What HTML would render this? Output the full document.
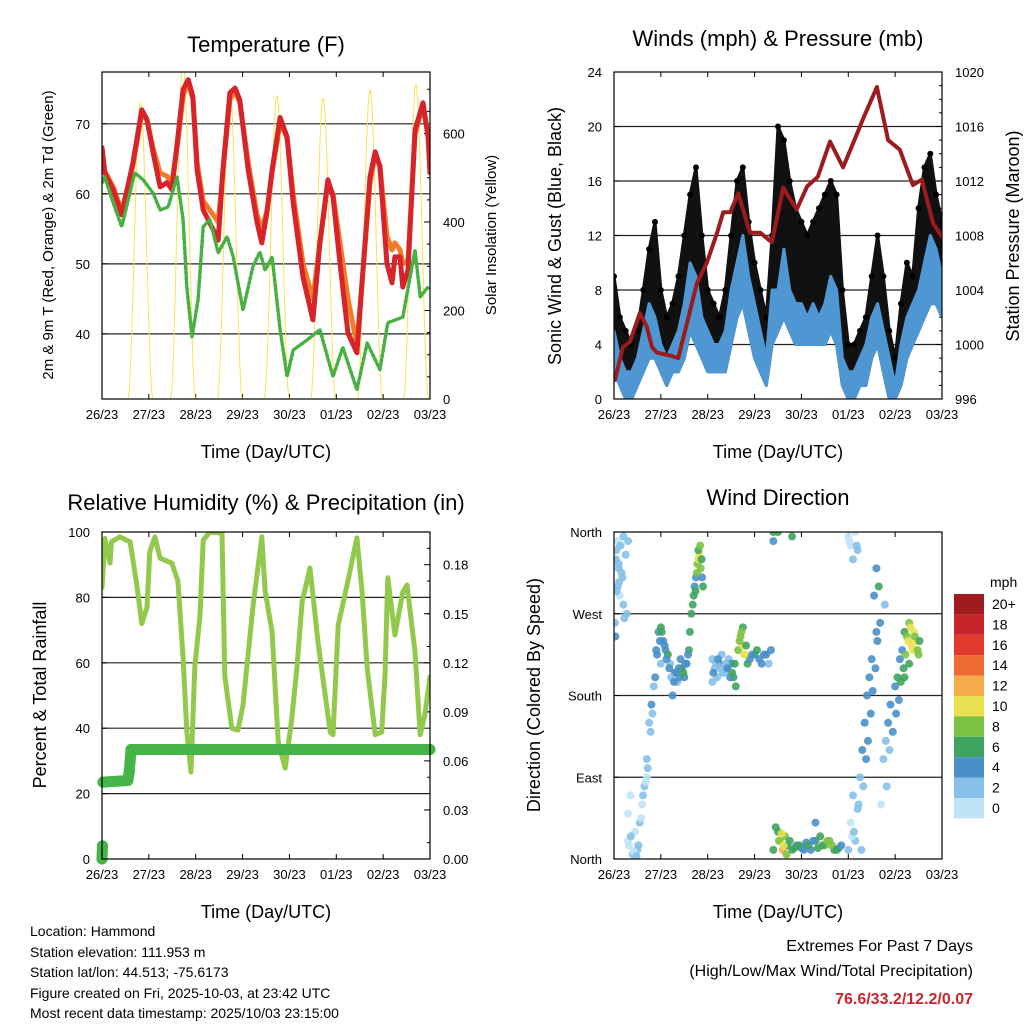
<!DOCTYPE html>
<html><head><meta charset="utf-8"><style>
html,body{margin:0;padding:0;background:#fff;}
svg text{font-family:"Liberation Sans",sans-serif;fill:#000;}
</style></head><body>
<svg id="s" width="1024" height="1024" viewBox="0 0 1024 1024" xmlns="http://www.w3.org/2000/svg">
<defs>
<clipPath id="c1"><rect x="102" y="72" width="328" height="327"/></clipPath>
<clipPath id="c2"><rect x="614" y="72" width="328" height="327"/></clipPath>
<clipPath id="c3"><rect x="102" y="532" width="328" height="327"/></clipPath>
<clipPath id="c4"><rect x="614" y="532" width="328" height="327"/></clipPath>
</defs>
<g id="g1"></g>
<g id="g2"></g>
<g id="g3"></g>
<g id="g4"></g>
<g font-size="14">
<text x="30" y="936">Location: Hammond</text>
<text x="30" y="957">Station elevation: 111.953 m</text>
<text x="30" y="977">Station lat/lon: 44.513; -75.6173</text>
<text x="30" y="998">Figure created on Fri, 2025-10-03, at 23:42 UTC</text>
<text x="30" y="1018">Most recent data timestamp: 2025/10/03 23:15:00</text>
</g>
<g font-size="16" text-anchor="end">
<text x="973" y="951">Extremes For Past 7 Days</text>
<text x="973" y="976">(High/Low/Max Wind/Total Precipitation)</text>
<text x="973" y="1004" font-weight="bold" style="fill:#c8262c">76.6/33.2/12.2/0.07</text>
</g>
</svg>
<script>
// ---------- data ----------
const dayLabels = ["26/23","27/23","28/23","29/23","30/23","01/23","02/23","03/23"];
const tempT   = [0,.06,.24,.42,.66,.85,.96,1.09,1.24,1.39,1.49,1.62,1.73,1.84,1.94,2.03,2.16,2.37,2.48,2.58,2.73,2.84,2.94,3.12,3.31,3.41,3.52,3.63,3.80,3.95,4.08,4.29,4.50,4.65,4.82,4.93,5.08,5.25,5.44,5.57,5.72,5.83,5.93,6.08,6.19,6.25,6.36,6.42,6.53,6.68,6.85,6.96,7.0];
const temp2m  = [66.6,63,60.6,57,64.4,72,70.6,65.9,61,61.6,60.6,68.1,74.9,76.3,73.9,63.4,57.7,54.9,53.4,63.4,74.4,75.1,73.4,63.4,55.9,53,57.3,63.4,70.9,68.1,58.7,48.1,42,53,62,59.6,50.1,40.1,37.3,49.1,62.4,66,63.9,50.1,47.3,51,51,46.7,49.1,69.1,73,68.1,63];
const temp9m  = [66.4,63.2,61,57.5,64,71.5,70.5,66.5,63,62.5,61.5,67.5,74,75.8,73.5,64.5,59,57,56,63,73.5,74.6,73,64.5,57,55,57.5,63,70.2,68,60,50,45,53,61.5,60,53,45,38.5,49,61.5,65.5,64,54,52,53,52,50,50.5,68.5,72.5,68.5,63.5];
const dewT    = [0,.06,.24,.42,.70,.88,1.09,1.24,1.41,1.60,1.73,1.81,1.92,2.05,2.16,2.30,2.48,2.67,2.80,3.01,3.22,3.37,3.48,3.63,3.80,3.95,4.08,4.37,4.65,4.93,5.14,5.44,5.66,5.93,6.10,6.42,6.68,6.79,6.96];
const dewPt   = [61.6,62.4,58.7,55.3,63,62,60.1,57.7,58.1,62.4,56.3,46.7,39.6,44.9,55.3,56.3,51.6,53.9,51,43.4,49.6,51.7,49.1,51,40.6,33.9,37.7,39.1,40.6,33.9,38.1,32,38.7,34.9,41.6,42.4,52,45.3,46.7];
const solarNoon = [0.82,1.73,2.73,3.73,4.72,5.72,6.70];
const solarPeak = [669,760,700,685,680,698,710];
const presT = [.02,.19,.34,.55,.70,.81,.92,1.19,1.37,1.56,1.77,1.98,2.20,2.33,2.48,2.65,2.90,3.12,3.37,3.61,3.90,4.12,4.35,4.61,4.89,5.19,5.32,5.61,5.85,6.10,6.38,6.57,6.81,7.0];
const presV = [997.4,999.8,1000.2,1002.3,1001.3,999.8,999.4,999.2,999.0,1001.6,1004.5,1006.0,1008.2,1009.7,1009.7,1011.1,1008.2,1008.2,1007.5,1011.5,1009.9,1011.6,1012.3,1014.9,1013.0,1015.5,1016.6,1018.9,1015.0,1014.3,1011.7,1012.1,1008.9,1007.9];
const windT  = [0,.125,.25,.375,.5,.625,.75,.875,1,1.125,1.25,1.375,1.5,1.625,1.75,1.875,2,2.125,2.25,2.375,2.5,2.625,2.75,2.875,3,3.125,3.25,3.375,3.5,3.625,3.75,3.875,4,4.125,4.25,4.375,4.5,4.625,4.75,4.875,5,5.125,5.25,5.375,5.5,5.625,5.75,5.875,6,6.125,6.25,6.375,6.5,6.625,6.75,6.875,7];
const gustHi = [9,6,5,4,5,8,11,13,8,6,7,9,12,15,17,12,8,7,6,8,12,16,17,13,10,8,6,12,20,19,16,14,13,12,13,14,15,16,15,8,4,4,5,6,9,12,9,5,3,7,10,9,14,17,18,15,13];
const windHi = [5,3,2,2,3,5,7,6,4,3,4,5,7,10,9,6,5,4,4,5,8,10,12,9,7,5,3,8,8,11,8,7,7,6,7,6,7,9,8,3,2,2,3,4,6,7,5,3,1,4,6,7,8,10,12,11,9];
const windLo = [2,1,0,0,1,2,3,3,2,1,2,2,3,5,4,3,2,2,2,2,4,6,7,5,3,2,1,4,5,6,5,4,4,4,4,4,4,5,4,1,0,0,1,1,3,4,2,0,0,1,3,4,5,6,7,7,6];
const rhT = [0,.06,.17,.2,.38,.6,.74,.85,.96,1.02,1.13,1.24,1.49,1.62,1.73,1.81,1.90,1.98,2.09,2.16,2.30,2.56,2.62,2.77,2.90,3.01,3.22,3.41,3.48,3.63,3.76,3.91,4.05,4.16,4.27,4.44,4.61,4.87,4.93,5.04,5.23,5.44,5.55,5.66,5.83,5.97,6.04,6.10,6.25,6.42,6.51,6.68,6.79,6.89,7.0];
const rhV = [83,98,90.5,97,98.5,97,84,72,77,94,98.5,92,90.5,85,61.5,39,26.6,59,74,97.5,100,99.7,56,40,39.4,47,77,98.5,82,69.4,35.8,27.8,43,58.4,78.6,89,66.4,38.8,38,71.6,83.8,98.2,81.6,58.4,38,38.8,56.3,86,68.5,81.6,83.8,63.3,38,44,55.7];
const rainT = [0,0.01,0.02,0.55,0.58,0.6,0.62,7];
const rainV = [0,0.008,0.047,0.048,0.053,0.06,0.067,0.067];
const dirT = [0.05,0.1,0.15,0.2,0.25,0.3,0.08,0.12,0.18,0.02,0.03,0.2,0.3,0.4,0.5,0.55,0.6,0.65,0.35,0.45,0.7,0.75,0.8,0.85,0.9,0.95,0.3,0.7,1.0,1.05,1.1,1.15,1.2,1.3,1.35,1.4,1.45,1.5,1.55,1.6,1.0,1.25,1.62,1.65,1.7,1.75,1.78,1.82,1.85,1.88,1.9,1.72,1.8,2.1,2.15,2.2,2.25,2.3,2.35,2.4,2.45,2.5,2.55,2.6,2.1,2.65,2.7,2.75,2.8,2.75,2.85,2.9,3.0,3.1,3.2,3.3,3.35,3.4,3.4,3.5,3.8,3.4,3.5,3.55,3.6,3.65,3.7,3.8,3.9,4.0,4.1,4.2,4.3,4.4,4.5,4.6,4.7,4.8,4.3,5.0,5.05,5.1,5.15,5.2,5.0,5.05,5.1,5.15,5.2,5.25,5.3,5.35,5.4,5.45,5.5,5.55,5.6,5.65,5.68,5.6,5.7,5.75,5.8,5.85,5.9,6.0,6.05,6.1,6.15,6.2,6.25,6.3,6.35,6.4,6.45,6.5,6.3,6.2,
 0.04,0.07,0.1,0.13,0.16,0.06,0.11,0.22,0.27,0.32,0.36,0.42,0.48,0.52,0.58,0.62,0.68,0.72,0.78,0.82,0.88,0.92,0.98,1.02,1.08,1.12,1.18,1.22,1.28,1.33,1.38,1.42,1.48,1.52,1.58,1.68,1.74,1.77,1.8,1.84,1.87,2.12,2.18,2.22,2.28,2.32,2.38,2.42,2.48,2.52,2.58,2.68,2.72,2.78,2.82,2.95,3.05,3.15,3.25,3.45,3.52,3.58,3.62,3.68,3.75,3.85,3.95,4.05,4.15,4.25,4.35,4.45,4.55,4.65,4.75,4.85,5.02,5.08,5.12,5.18,5.22,5.28,5.32,5.38,5.42,5.48,5.52,5.58,5.62,5.78,5.82,5.88,5.95,6.02,6.08,6.12,6.18,6.22,6.28,6.33,6.38,6.42,6.48,6.52];
const dirV = [340,320,345,355,335,350,300,290,310,260,245,280,20,5,10,40,60,80,70,30,110,150,170,190,230,250,50,90,255,240,230,225,215,205,195,200,210,200,215,230,215,180,250,270,290,310,325,335,320,310,300,300,340,220,210,200,215,225,205,210,220,215,200,190,195,230,245,235,225,255,215,220,225,220,225,215,230,350,360,360,355,10,30,20,10,25,15,10,15,12,18,10,20,25,15,20,10,12,40,355,345,330,360,340,10,40,70,20,55,90,120,150,180,200,220,290,320,300,260,250,60,110,130,150,170,190,200,220,230,250,245,260,235,250,240,225,215,200,
 330,350,325,345,315,295,305,265,270,15,25,8,3,15,45,70,85,100,140,160,200,225,240,250,235,220,210,200,195,205,210,220,205,215,225,280,295,315,330,345,330,205,215,220,210,205,215,210,200,205,215,240,250,225,235,225,230,215,225,35,20,28,15,5,20,12,15,10,15,20,12,15,20,15,10,15,350,25,30,345,60,10,80,110,130,160,185,210,240,280,80,120,140,160,175,195,210,225,240,255,230,245,230,240,225];
const dirS = [2,2,1,2,3,2,2,1,2,3,4,2,1,2,3,2,1,2,1,1,2,3,4,3,4,5,1,1,6,5,4,6,3,4,3,5,6,4,5,6,3,4,6,6,7,5,9,10,8,4,6,4,7,3,2,3,4,3,2,4,3,5,7,6,3,8,9,10,11,7,6,5,6,5,4,3,4,4,6,7,6,6,7,10,12,9,7,6,5,5,5,5,6,7,8,9,6,4,4,1,1,2,1,2,2,1,2,3,2,3,4,4,5,4,4,4,5,6,5,4,1,2,3,4,4,5,6,4,5,6,8,9,10,11,10,8,7,6,
 2,1,2,2,3,2,3,3,2,1,2,1,2,3,1,2,1,2,3,3,4,5,4,6,5,4,5,3,4,5,4,5,6,4,5,6,7,8,10,9,7,4,3,4,3,2,3,4,5,6,7,8,9,10,7,5,6,5,4,7,9,11,10,8,6,7,6,5,6,5,6,7,8,9,7,5,1,1,2,2,2,2,3,4,4,4,4,5,5,2,3,3,4,4,5,6,7,8,10,11,10,9,8,7];
const cbLabels = ["20+","18","16","14","12","10","8","6","4","2","0"];
const cbColors = ["#a01b1e","#c4242a","#e03a2e","#ee6a30","#f7ac4c","#e9e152","#7dc242","#3fa45f","#4a90c8","#86c0e8","#bfe4f8"];

// ---------- helpers ----------
const NS="http://www.w3.org/2000/svg";
function mk(tag,attrs,parent){const e=document.createElementNS(NS,tag);for(const k in attrs)e.setAttribute(k,attrs[k]);parent.appendChild(e);return e;}
function txt(parent,x,y,s,size,anchor,rot){const e=mk('text',{x:x,y:y,'font-size':size,'text-anchor':anchor||'middle'},parent);if(rot)e.setAttribute('transform','rotate(-90 '+x+' '+y+')');e.textContent=s;return e;}
function panel(P){P.sx=d=>P.x0+d/7*(P.x1-P.x0);P.sy=v=>P.y1-(v-P.lo)/(P.hi-P.lo)*(P.y1-P.y0);P.sy2=v=>P.y1-(v-P.lo2)/(P.hi2-P.lo2)*(P.y1-P.y0);return P;}
const P1=panel({x0:102,x1:430,y0:72,y1:399,lo:30.7,hi:77.4,lo2:0,hi2:739});
const P2=panel({x0:614,x1:942,y0:72,y1:399,lo:0,hi:24,lo2:996,hi2:1020});
const P3=panel({x0:102,x1:430,y0:532,y1:859,lo:0,hi:100,lo2:0,hi2:0.2});
const P4=panel({x0:614,x1:942,y0:532,y1:859,lo:0,hi:360});

function frame(g,P,title,ty,xlabel){
  dayLabels.forEach((l,i)=>{const x=P.sx(i);
    mk('line',{x1:x,x2:x,y1:P.y1,y2:P.y1-5,stroke:'#000','stroke-width':1},g);
    mk('line',{x1:x,x2:x,y1:P.y0,y2:P.y0+5,stroke:'#000','stroke-width':1},g);
    const t=txt(g,x,P.y1+20,l,13);});
  const tt=txt(g,(P.x0+P.x1)/2,ty,title,22);
  const xl=txt(g,(P.x0+P.x1)/2,P.y1+59,xlabel,18);
}
function border(g,P){const r=mk('rect',{x:P.x0,y:P.y0,width:P.x1-P.x0,height:P.y1-P.y0,fill:'none',stroke:'#000','stroke-width':1.2},g);}
function ytick(g,P,v,label,grid,side,y){const yy=y!==undefined?y:P.sy(v);
  if(grid)mk('line',{x1:P.x0,x2:P.x1,y1:yy,y2:yy,stroke:'#222','stroke-width':1.2},g);
  if(side==='L'){mk('line',{x1:P.x0,x2:P.x0+5,y1:yy,y2:yy,stroke:'#000'},g);const t=txt(g,P.x0-12,yy+5,label,13,'end');}
  else {mk('line',{x1:P.x1,x2:P.x1-6,y1:yy,y2:yy,stroke:'#000'},g);const t=txt(g,P.x1+13,yy+5,label,13,'start');}
}
function minor(g,P,y){mk('line',{x1:P.x1,x2:P.x1-3,y1:y,y2:y,stroke:'#000'},g);}
function path(g,P,ts,vs,fy,attrs,clip){let d='';ts.forEach((t,i)=>{d+=(i?'L':'M')+P.sx(t).toFixed(1)+','+fy(vs[i]).toFixed(1);});const p=mk('path',Object.assign({d:d,fill:'none','stroke-linejoin':'round','stroke-linecap':'round'},attrs),g);p.setAttribute('clip-path','url(#'+clip+')');return p;}

// ---------- panel 1 ----------
const g1=document.getElementById('g1');
frame(g1,P1,'Temperature (F)',52,'Time (Day/UTC)');
[40,50,60,70].forEach(v=>ytick(g1,P1,v,String(v),true,'L'));
[0,200,400,600].forEach(v=>ytick(g1,P1,v,String(v),false,'R',P1.sy2(v)));
for(let v=50;v<739;v+=50){minor(g1,P1,P1.sy2(v));}
const sol=mk('g',{'clip-path':'url(#c1)'},g1);


solarNoon.forEach((n,i)=>{let d='';for(let k=0;k<=60;k++){const t=n-0.27+k*0.54/60;const s=Math.sin(Math.PI*k/60);const v=solarPeak[i]*Math.pow(s,2);d+=(k?'L':'M')+P1.sx(t).toFixed(1)+','+P1.sy2(v).toFixed(1);}
  const p=mk('path',{d:d,fill:'none',stroke:'#f8e256','stroke-width':1},sol);});
let p;
p=path(g1,P1,tempT,temp9m,P1.sy,{stroke:'#f07c2a','stroke-width':5},'c1');
p=path(g1,P1,tempT,temp2m,P1.sy,{stroke:'#d7232a','stroke-width':5},'c1');
p=path(g1,P1,dewT,dewPt,P1.sy,{stroke:'#48b041','stroke-width':3.5,'stroke-dasharray':'2.5,2.5'},'c1');
border(g1,P1);
let t=txt(g1,53,235,'2m & 9m T (Red, Orange) & 2m Td (Green)',15,'middle',true);
t=txt(g1,496,235,'Solar Insolation (Yellow)',15,'middle',true);

// ---------- panel 2 ----------
const g2=document.getElementById('g2');
frame(g2,P2,'Winds (mph) & Pressure (mb)',46,'Time (Day/UTC)');
[0,4,8,12,16,20,24].forEach(v=>ytick(g2,P2,v,String(v),v>0&&v<24,'L'));
[996,1000,1004,1008,1012,1016,1020].forEach(v=>ytick(g2,P2,v,String(v),false,'R',P2.sy2(v)));
for(let v=997;v<1020;v++){if(v%4)minor(g2,P2,P2.sy2(v));}
function band(g,P,ts,lo,hi,color,name){let d='';ts.forEach((t,i)=>{d+=(i?'L':'M')+P.sx(t).toFixed(1)+','+P.sy(hi[i]).toFixed(1);});for(let i=ts.length-1;i>=0;i--){d+='L'+P.sx(ts[i]).toFixed(1)+','+P.sy(lo[i]).toFixed(1);}d+='Z';const e=mk('path',{d:d,fill:color,stroke:color,'stroke-width':3,'stroke-linejoin':'round','clip-path':'url(#c2)'},g);}
band(g2,P2,windT,windLo,gustHi,'#111','gust-band');
const gd=mk('g',{'clip-path':'url(#c2)'},g2);
windT.forEach((tt,i)=>{const c=mk('circle',{cx:P2.sx(tt),cy:P2.sy(gustHi[i]),r:3,fill:'#000'},gd);});
band(g2,P2,windT,windLo,windHi,'#4f97d2','sonic-wind-band');
p=path(g2,P2,presT,presV,P2.sy2,{stroke:'#9b1b1e','stroke-width':4},'c2');
border(g2,P2);
t=txt(g2,561,236,'Sonic Wind & Gust (Blue, Black)',18,'middle',true);
t=txt(g2,1019,236,'Station Pressure (Maroon)',18,'middle',true);

// ---------- panel 3 ----------
const g3=document.getElementById('g3');
frame(g3,P3,'Relative Humidity (%) & Precipitation (in)',510,'Time (Day/UTC)');
[0,20,40,60,80,100].forEach(v=>ytick(g3,P3,v,String(v),v>0&&v<100,'L'));
['0.00','0.03','0.06','0.09','0.12','0.15','0.18'].forEach(l=>ytick(g3,P3,0,l,false,'R',P3.sy2(parseFloat(l))));
for(let k=1;k<20;k+=2){minor(g3,P3,P3.sy2(k*0.01));}
p=path(g3,P3,rhT,rhV,P3.sy,{stroke:'#92c94d','stroke-width':5},'c3');
const rg=mk('g',{},g3);


for(let i=1;i<rainT.length;i++){if(Math.abs(rainV[i]-rainV[i-1])<0.02){mk('line',{x1:P3.sx(rainT[i-1]),y1:P3.sy2(rainV[i-1]),x2:P3.sx(rainT[i]),y2:P3.sy2(rainV[i]),stroke:'#46b449','stroke-width':11,'stroke-linecap':'round'},rg);}}
rainT.forEach((tt,i)=>{const c=mk('circle',{cx:P3.sx(tt),cy:P3.sy2(rainV[i]),r:5.5,fill:'#46b449'},rg);});
border(g3,P3);
t=txt(g3,46,695,'Percent & Total Rainfall',18,'middle',true);

// ---------- panel 4 ----------
const g4=document.getElementById('g4');
frame(g4,P4,'Wind Direction',505,'Time (Day/UTC)');
[[0,'North'],[90,'East'],[180,'South'],[270,'West'],[360,'North']].forEach(a=>ytick(g4,P4,a[0],a[1],a[0]>0&&a[0]<360,'L'));
const dg=mk('g',{'clip-path':'url(#c4)'},g4);
function spdColor(s){const idx=Math.min(10,Math.floor(s/2));return cbColors[10-idx];}
dirT.forEach((tt,i)=>{const c=mk('circle',{cx:P4.sx(tt),cy:P4.sy(dirV[i]),r:4,fill:spdColor(dirS[i]),'fill-opacity':0.9},dg);});
border(g4,P4);
t=txt(g4,540,695,'Direction (Colored By Speed)',18,'middle',true);
const cb=mk('g',{},g4);


t=txt(cb,990,587,'mph',14,'start');
cbLabels.forEach((l,i)=>{const y=594+i*20.4;const r=mk('rect',{x:954,y:y,width:30,height:20.4,fill:cbColors[i]},cb);
  const tl=txt(cb,992,y+15,l,14,'start');});
</script>
</body></html>
